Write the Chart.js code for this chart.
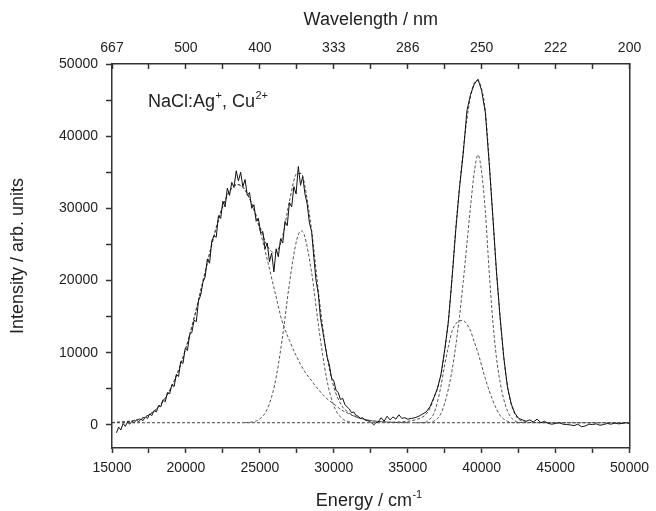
<!DOCTYPE html>
<html>
<head>
<meta charset="utf-8">
<title>NaCl:Ag+, Cu2+ absorption</title>
<script src="https://cdn.jsdelivr.net/npm/chart.js@4.4.1/dist/chart.umd.min.js"></script>
<style>
    html, body { margin: 0; padding: 0; background: #fff; }
    canvas { display: block; }
</style>
</head>
<body>
<canvas id="spectrumChart" width="656" height="511"></canvas>
<script>
// tick positions and labels
const energyTickValues = [15000, 17500, 20000, 22500, 25000, 27500, 30000, 32500, 35000,
    37500, 40000, 42500, 45000, 47500, 50000];
const energyLabels = ['15000', '20000', '25000', '30000', '35000', '40000', '45000', '50000'];
const wavelengthLabels = ['667', '500', '400', '333', '286', '250', '222', '200'];
const intensityTickValues = [0, 5000, 10000, 15000, 20000, 25000, 30000, 35000, 40000, 45000, 50000];
const intensityLabels = ['0', '10000', '20000', '30000', '40000', '50000'];

// measured spectrum (energy in cm-1, intensity in arb. units)
const dataEnergy = [
    15300, 15450, 15600, 15750, 15900, 16050, 16200, 16350, 16500, 16650, 16800, 16950,
    17100, 17250, 17400, 17550, 17700, 17850, 18000, 18150, 18300, 18450, 18600, 18750,
    18900, 19050, 19200, 19350, 19500, 19650, 19800, 19950, 20100, 20250, 20400, 20550,
    20700, 20850, 21000, 21150, 21300, 21450, 21600, 21750, 21900, 22050, 22200, 22350,
    22500, 22650, 22800, 22950, 23100, 23250, 23400, 23550, 23700, 23850, 24000, 24150,
    24300, 24450, 24600, 24750, 24900, 25050, 25200, 25350, 25500, 25650, 25800, 25950,
    26100, 26250, 26400, 26550, 26700, 26850, 27000, 27150, 27300, 27450, 27600, 27750,
    27900, 28050, 28200, 28350, 28500, 28650, 28800, 28950, 29100, 29250, 29400, 29550,
    29700, 29850, 30000, 30150, 30300, 30450, 30600, 30750, 30900, 31050, 31200, 31350,
    31500, 31650, 31800, 31950, 32100, 32250, 32400, 32550, 32700, 32850, 33000,
    33200, 33400, 33600, 33800, 34000, 34200, 34400, 34600, 34800, 35000, 35250, 35500,
    35750, 36000, 36250, 36500, 36750, 37000, 37250, 37500, 37750, 38000, 38250, 38500,
    38750, 39000, 39250, 39500, 39750, 40000, 40250, 40500, 40750, 41000, 41250, 41500,
    41750, 42000, 42250, 42500, 42750, 43000, 43250, 43500, 43750, 44000, 44250, 44500,
    44750, 45000, 45250, 45500, 45750, 46000, 46250, 46500, 46750, 47000, 47250, 47500,
    47750, 48000, 48250, 48500, 48750, 49000, 49250, 49500, 49750, 50000
];
const dataIntensity = [
    -1100, -300, -700, 200, -200, 400, 100, 500, 300, 700, 400, 800,
    600, 1100, 900, 1500, 1300, 2000, 1800, 2700, 2500, 3500, 3200, 4500,
    4300, 5600, 5300, 7000, 6700, 8800, 8500, 10600, 10300, 12500, 12800, 14500,
    14300, 17200, 18000, 19800, 20500, 23000, 22400, 25500, 26200, 26000, 29000, 28600,
    31000, 30200, 32800, 31800, 33600, 32900, 35200, 33800, 35000, 33000, 34000, 31800,
    32200, 30000, 30500, 28200, 28600, 26600, 26800, 24400, 25200, 22600, 23800, 21200,
    24400, 23300, 25800, 25200, 28200, 27600, 30800, 30200, 33000, 32000, 35800, 33200,
    34400, 32000, 30600, 28000, 26800, 23200, 20000, 18200, 14800, 13000, 11200, 9400,
    8300, 6500, 6100, 4800, 4500, 3500, 3700, 2800, 2500, 2200, 1700, 1800,
    1300, 1200, 900, 1000, 700, 600, 500, 300, 0, 300, 400,
    1000, 500, 1200, 700, 1100, 800, 1400, 900, 1000, 800, 900, 1000,
    1200, 1500, 1800, 2500, 3700, 5000, 7000, 10400, 14300, 20400, 27000, 32800,
    37500, 43500, 45800, 47200, 47900, 46300, 43200, 36500, 29000, 21300, 14800, 9300,
    5200, 2900, 1600, 900, 700, 500, 700, 400, 800, 300, 500, 200,
    100, 200, 300, 100, 50, 0, -100, 100, -250, -150, 100, 50,
    150, -50, 50, 200, 100, 250, 150, 200, 300, 200
];

// total fit
const fitEnergy = [
    15000, 15500, 16000, 16500, 17000, 17500, 18000, 18500, 19000, 19500, 20000, 20500,
    21000, 21500, 22000, 22500, 23000, 23500, 24000, 24500, 25000, 25500, 26000, 26500,
    27000, 27500, 27800, 28000, 28500, 29000, 29500, 30000, 30500, 31000, 31500, 32000,
    32500, 33000, 34000, 35000, 35500, 36000, 36250, 36500, 36750, 37000, 37250, 37500,
    37750, 38000, 38250, 38500, 38750, 39000, 39250, 39500, 39750, 40000, 40250, 40500,
    40750, 41000, 41250, 41500, 41750, 42000, 42250, 42500, 42750, 43000, 43500, 44000, 50000
];
const fitIntensity = [
    330, 380, 460, 620, 900, 1400, 2190, 3410, 5160, 7580, 10660, 14390,
    18580, 22910, 26980, 30330, 32530, 33300, 32540, 30440, 27510, 24800, 23840, 25810,
    30990, 34800, 34830, 33540, 26900, 17730, 9960, 5260, 2790, 1710, 1120, 800,
    600, 480, 380, 500, 700, 1100, 1500, 2300, 3600, 5000, 7000, 10300,
    14500, 20500, 27300, 33000, 38000, 42300, 45500, 47400, 47700, 46500, 43500, 36800,
    29000, 21200, 14800, 9200, 5300, 2900, 1500, 800, 500, 380, 320, 300, 300
];

// fitted component bands
const band1Energy = [
    15000, 15500, 16000, 16500, 17000, 17500, 18000, 18500, 19000, 19500, 20000, 20500,
    21000, 21500, 22000, 22500, 23000, 23500, 24000, 24500, 25000, 25500, 26000, 26500,
    27000, 27500, 28000, 28500, 29000, 29500, 30000, 30500, 31000, 31500, 32000, 32500,
    33000, 34000, 35000
];
const band1Intensity = [
    330, 380, 460, 620, 900, 1400, 2190, 3410, 5160, 7580, 10660, 14390,
    18580, 22910, 26980, 30330, 32530, 33300, 32530, 30330, 26980, 22910, 18580, 14400,
    11700, 9400, 7500, 6100, 4800, 3700, 2900, 2100, 1550, 1100, 800, 600,
    480, 350, 300
];

const band2Energy = [
    24000, 24500, 25000, 25500, 26000, 26500, 27000, 27500, 27800, 28000, 28500, 29000,
    29500, 30000, 30500, 31000, 31500, 32000
];
const band2Intensity = [
    310, 410, 830, 2190, 5560, 11710, 19590, 25700, 26870, 26340, 21100, 13230,
    6560, 2660, 990, 460, 320, 300
];

const band3Energy = [
    35500, 36000, 36250, 36500, 36750, 37000, 37250, 37500, 37750, 38000, 38250, 38500,
    38750, 39000, 39250, 39500, 39750, 40000, 40250, 40500, 40750, 41000, 41250, 41500,
    41750, 42000, 42500
];
const band3Intensity = [
    300, 320, 400, 800, 1500, 3100, 5400, 8300, 10850, 13000, 14000, 14450,
    14450, 13950, 13000, 11500, 10000, 8200, 6400, 4800, 3400, 2200, 1300, 800,
    500, 350, 300
];

const band4Energy = [
    36000, 36500, 36750, 37000, 37250, 37500, 37750, 38000, 38250, 38500, 38750, 39000,
    39250, 39500, 39750, 40000, 40250, 40500, 40750, 41000, 41250, 41500, 41750, 42000,
    42250, 42500, 43000
];
const band4Intensity = [
    300, 350, 500, 850, 1600, 3000, 5000, 7600, 11000, 15000, 19800, 25000,
    30300, 35000, 37400, 35000, 29500, 21500, 14500, 9300, 5900, 3500, 1900, 1000,
    550, 380, 300
];

const baselineEnergy = [15000, 50000];
const baselineIntensity = [300, 300];

const FONT = "'Liberation Sans', Arial, Helvetica, sans-serif";
const INK = '#222';
const AXIS = '#333';

function toPoints(xs, ys) {
    return xs.map((x, i) => ({ x: x, y: ys[i] }));
}

function dashedSet(xs, ys, color) {
    return {
        data: toPoints(xs, ys),
        borderColor: color,
        borderWidth: 1,
        borderDash: [3, 2],
        pointRadius: 0,
        cubicInterpolationMode: 'monotone',
        fill: false
    };
}

function drawPiece(ctx, text, x, y, size) {
    ctx.font = size + 'px ' + FONT;
    ctx.fillText(text, x, y);
    return x + ctx.measureText(text).width;
}

// sample name inside the frame and the bottom axis title (both need superscripts)
const textPlugin = {
    id: 'spectrumText',
    afterDraw(chart) {
        const ctx = chart.ctx;
        const area = chart.chartArea;
        ctx.save();
        ctx.fillStyle = INK;
        ctx.textAlign = 'left';
        ctx.textBaseline = 'alphabetic';

        let x = area.left + 36;
        const y = area.top + 43;
        x = drawPiece(ctx, 'NaCl:Ag', x, y, 18);
        x = drawPiece(ctx, '+', x + 0.5, y - 8, 11);
        x = drawPiece(ctx, ', Cu', x, y, 18);
        drawPiece(ctx, '2+', x + 0.5, y - 8, 11);

        ctx.font = '18px ' + FONT;
        const w1 = ctx.measureText('Energy / cm').width;
        ctx.font = '11px ' + FONT;
        const w2 = ctx.measureText('-1').width;
        let tx = (area.left + area.right) / 2 - 2 - (w1 + w2) / 2;
        const ty = chart.height - 5;
        tx = drawPiece(ctx, 'Energy / cm', tx, ty, 18);
        drawPiece(ctx, '-1', tx + 0.5, ty - 8, 11);
        ctx.restore();
    }
};

function setTicks(values) {
    return (scale) => { scale.ticks = values.map(v => ({ value: v })); };
}

function energyTick(value) {
    const idx = (value - 15000) / 5000;
    return Number.isInteger(idx) ? energyLabels[idx] : '';
}

function wavelengthTick(value) {
    const idx = (value - 15000) / 5000;
    return Number.isInteger(idx) ? wavelengthLabels[idx] : '';
}

function intensityTick(value) {
    const idx = value / 10000;
    return (Number.isInteger(idx) && idx >= 0) ? intensityLabels[idx] : '';
}

const tickFont = { family: FONT, size: 14 };
const titleFont = { family: FONT, size: 18 };

new Chart(document.getElementById('spectrumChart'), {
    type: 'line',
    data: {
        datasets: [
            {
                data: toPoints(dataEnergy, dataIntensity),
                borderColor: '#111',
                borderWidth: 1,
                pointRadius: 0,
                tension: 0,
                fill: false
            },
            dashedSet(fitEnergy, fitIntensity, '#444'),
            dashedSet(band1Energy, band1Intensity, '#555'),
            dashedSet(band2Energy, band2Intensity, '#555'),
            dashedSet(band3Energy, band3Intensity, '#555'),
            dashedSet(band4Energy, band4Intensity, '#555'),
            dashedSet(baselineEnergy, baselineIntensity, '#444')
        ]
    },
    options: {
        responsive: false,
        animation: false,
        layout: { padding: 0 },
        plugins: {
            legend: { display: false },
            tooltip: { enabled: false }
        },
        scales: {
            x: {
                type: 'linear',
                position: 'bottom',
                min: 15000,
                max: 50000,
                afterBuildTicks: setTicks(energyTickValues),
                afterFit: (scale) => { scale.height = 63; },
                ticks: {
                    autoSkip: false,
                    maxRotation: 0,
                    padding: 7,
                    color: INK,
                    font: tickFont,
                    callback: energyTick
                },
                grid: { drawOnChartArea: false, tickLength: 5, tickColor: AXIS, tickWidth: 1.5 },
                border: { color: AXIS, width: 1.5 }
            },
            x2: {
                type: 'linear',
                position: 'top',
                min: 15000,
                max: 50000,
                afterBuildTicks: setTicks(energyTickValues),
                afterFit: (scale) => { scale.height = 64; },
                ticks: {
                    autoSkip: false,
                    maxRotation: 0,
                    padding: 12,
                    color: INK,
                    font: tickFont,
                    callback: wavelengthTick
                },
                grid: { drawOnChartArea: false, tickLength: -5, tickColor: AXIS, tickWidth: 1.5 },
                border: { color: AXIS, width: 1.5 },
                title: {
                    display: true,
                    text: 'Wavelength / nm',
                    color: INK,
                    font: titleFont,
                    padding: { top: 9, bottom: 0 }
                }
            },
            y: {
                type: 'linear',
                position: 'left',
                min: -3200,
                max: 50000,
                afterBuildTicks: setTicks(intensityTickValues),
                afterFit: (scale) => { scale.width = 112; },
                ticks: {
                    autoSkip: false,
                    padding: 8,
                    color: INK,
                    font: tickFont,
                    callback: intensityTick
                },
                grid: { drawOnChartArea: false, tickLength: 6, tickColor: AXIS, tickWidth: 1.5 },
                border: { color: AXIS, width: 1.5 },
                title: {
                    display: true,
                    text: 'Intensity / arb. units',
                    color: INK,
                    font: titleFont,
                    padding: { top: 7, bottom: 0 }
                }
            },
            y2: {
                type: 'linear',
                position: 'right',
                min: -3200,
                max: 50000,
                afterFit: (scale) => { scale.width = 24; },
                ticks: { display: false },
                grid: { display: false, drawTicks: false },
                border: { color: AXIS, width: 1.5 }
            }
        }
    },
    plugins: [textPlugin]
});
</script>
</body>
</html>
